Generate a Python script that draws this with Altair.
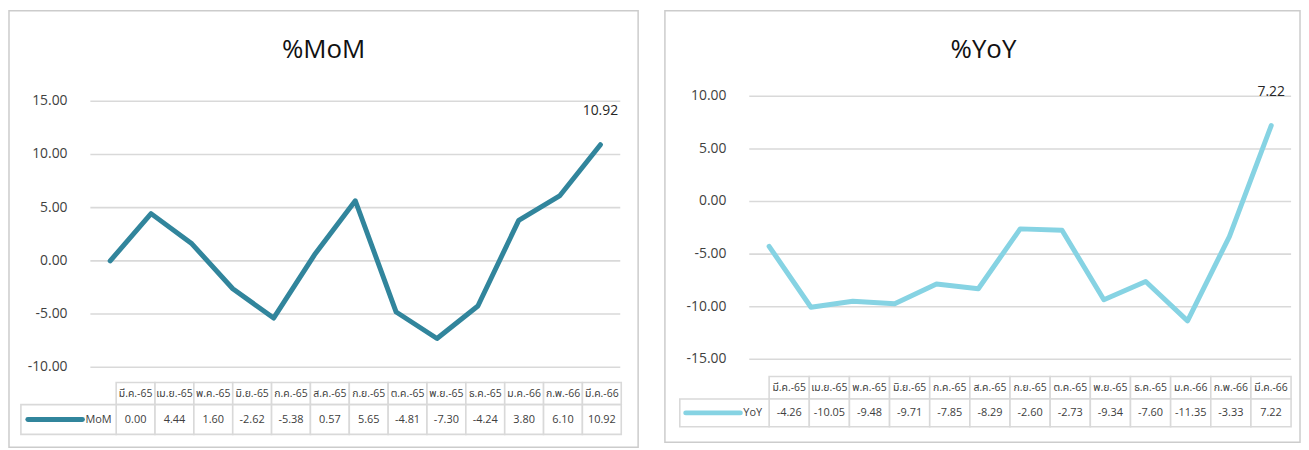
import altair as alt
import pandas as pd

months = ["มี.ค.-65", "เม.ย.-65", "พ.ค.-65", "มิ.ย.-65", "ก.ค.-65", "ส.ค.-65", "ก.ย.-65",
          "ต.ค.-65", "พ.ย.-65", "ธ.ค.-65", "ม.ค.-66", "ก.พ.-66", "มี.ค.-66"]
mom = [0.00, 4.44, 1.60, -2.62, -5.38, 0.57, 5.65, -4.81, -7.30, -4.24, 3.80, 6.10, 10.92]
yoy = [-4.26, -10.05, -9.48, -9.71, -7.85, -8.29, -2.60, -2.73, -9.34, -7.60, -11.35, -3.33, 7.22]
mom_ticks = [-10, -5, 0, 5, 10, 15]
yoy_ticks = [-15, -10, -5, 0, 5, 10]

FONT = "'Open Sans', 'Noto Sans Thai', 'Noto Sans', Tahoma, sans-serif"
GRID = "#d9d9d9"
TXT = "#404040"

geo_left = dict(w=634, h=440, title_x=317, lab_x=59, gx0=82, gx1=616,
                y_lo=359.3, y_hi=91.3, px0=102, px1=596, cx0=108, cx1=617,
                h0=374.7, h1=397, d1=427, lx0=12, lgx0=19, lgx1=74, ltx=77)
geo_right = dict(w=640, h=435, title_x=321, lab_x=62, gx0=85, gx1=631,
                 y_lo=351.3, y_hi=86.3, px0=105, px1=611, cx0=105, cx1=631,
                 h0=368.7, h1=391.3, d1=419.3, lx0=15, lgx0=21, lgx1=76, ltx=79)


def panel(title, series, values, ticks, color, g):
    df = pd.DataFrame({"month": months, "value": values,
                       "label": [f"{v:.2f}" for v in values]})
    tdf = pd.DataFrame({"tick": ticks, "tlabel": [f"{t:.2f}" for t in ticks]})
    last = df.tail(1)
    one = pd.DataFrame({"t": [title], "s": [series]})

    yscale = alt.Scale(domain=[min(ticks), max(ticks)], range=[g["y_lo"], g["y_hi"]],
                       nice=False, zero=False)
    xpt = alt.Scale(type="point", domain=months, range=[g["px0"], g["px1"]], padding=0)
    xband = alt.Scale(type="band", domain=months, range=[g["cx0"], g["cx1"]],
                      paddingInner=0, paddingOuter=0)

    X_line = alt.X("month:N", scale=xpt, sort=months, axis=None)
    X_band = alt.X("month:N", scale=xband, sort=months, axis=None)

    title_l = alt.Chart(one).mark_text(font=FONT, fontSize=26, color="#111111",
                                       baseline="middle").encode(
        x=alt.value(g["title_x"]), y=alt.value(40), text="t:N")

    grid = alt.Chart(tdf).mark_rule(color=GRID, strokeWidth=1.6).encode(
        y=alt.Y("tick:Q", scale=yscale, axis=None),
        x=alt.value(g["gx0"]), x2=alt.value(g["gx1"]))

    ylab = alt.Chart(tdf).mark_text(font=FONT, fontSize=14, color=TXT, align="right",
                                    baseline="middle").encode(
        y=alt.Y("tick:Q", scale=yscale, axis=None),
        x=alt.value(g["lab_x"]), text="tlabel:N")

    line = alt.Chart(df).mark_line(color=color, strokeWidth=5, strokeCap="round",
                                   strokeJoin="round").encode(
        x=X_line, y=alt.Y("value:Q", scale=yscale, axis=None))

    dlabel = alt.Chart(last).mark_text(font=FONT, fontSize=14, color="#262626",
                                       dy=-34, baseline="middle").encode(
        x=X_line, y=alt.Y("value:Q", scale=yscale, axis=None), text="label:N")

    hrect = alt.Chart(df).mark_rect(fill="white", stroke=GRID, strokeWidth=1.6).encode(
        x=X_band, y=alt.value(g["h0"]), y2=alt.value(g["h1"]))
    drect = alt.Chart(df).mark_rect(fill="white", stroke=GRID, strokeWidth=1.6).encode(
        x=X_band, y=alt.value(g["h1"]), y2=alt.value(g["d1"]))
    htext = alt.Chart(df).mark_text(font=FONT, fontSize=10.5, color=TXT,
                                    baseline="middle").encode(
        x=X_band, y=alt.value((g["h0"] + g["h1"]) / 2), text="month:N")
    dtext = alt.Chart(df).mark_text(font=FONT, fontSize=11, color=TXT,
                                    baseline="middle").encode(
        x=X_band, y=alt.value((g["h1"] + g["d1"]) / 2), text="label:N")

    lrect = alt.Chart(one).mark_rect(fill="white", stroke=GRID, strokeWidth=1.6).encode(
        x=alt.value(g["lx0"]), x2=alt.value(g["cx0"]),
        y=alt.value(g["h1"]), y2=alt.value(g["d1"]))
    lglyph = alt.Chart(one).mark_rule(color=color, strokeWidth=5, strokeCap="round").encode(
        x=alt.value(g["lgx0"]), x2=alt.value(g["lgx1"]),
        y=alt.value((g["h1"] + g["d1"]) / 2))
    ltext = alt.Chart(one).mark_text(font=FONT, fontSize=11, color=TXT, align="left",
                                     baseline="middle").encode(
        x=alt.value(g["ltx"]), y=alt.value((g["h1"] + g["d1"]) / 2), text="s:N")

    return alt.layer(title_l, grid, ylab, line, dlabel, hrect, drect, htext, dtext,
                     lrect, lglyph, ltext).resolve_scale(
        x="independent", y="independent").properties(width=g["w"], height=g["h"])


left = panel("%MoM", "MoM", mom, mom_ticks, "#31859c", geo_left)
right = panel("%YoY", "YoY", yoy, yoy_ticks, "#86d3e3", geo_right)

chart = alt.hconcat(left, right, spacing=25).properties(padding=0).configure_view(
    stroke="#cccccc", strokeWidth=1.5)

chart.save("out.html", embed_options={"renderer": "svg", "actions": False})
